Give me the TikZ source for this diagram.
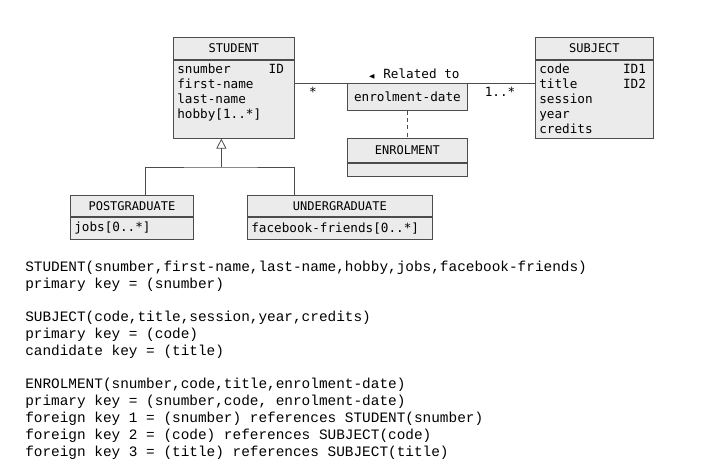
\documentclass[tikz,border=0pt]{standalone}
\usepackage{amssymb}
\usepackage{fontspec}
\newfontfamily\umlfont{DejaVu Sans Mono}
\newfontfamily\relfont{Liberation Mono}
\usetikzlibrary{arrows.meta,positioning}

\tikzset{
  box/.style={draw=black!70,fill=black!8,line width=0.6pt,inner sep=0pt,anchor=north west},
  attr/.style={font=\umlfont\fontsize{9.5}{11.25}\selectfont,align=left,anchor=north west,inner sep=0pt},
  title/.style={font=\umlfont\fontsize{9}{11}\selectfont},
  rel/.style={font=\relfont\fontsize{10.8}{12.75}\selectfont,anchor=west,inner sep=0pt},
  conn/.style={draw=black!70,line width=0.6pt}
}

\begin{document}
\begin{tikzpicture}[x=1pt,y=-1pt]
\useasboundingbox (0,0) rectangle (533.25,354.75);

% classes: header and body
\node[box,minimum width=90.75pt,minimum height=16.5pt] (stu) at (129.75,27.75) {};
\node[box,minimum width=90.75pt,minimum height=58.5pt] (stub) at (stu.south west) {};
\node[title] at (stu) {STUDENT};
\node[attr,text width=80pt] (stut) at ([xshift=3pt,yshift=-2.5pt]stub.north west)
  {snumber\hfill ID\\first-name\\last-name\\hobby[1..*]};

\node[box,minimum width=88.5pt,minimum height=16.5pt] (sub) at (401.25,27.75) {};
\node[box,minimum width=88.5pt,minimum height=58.5pt] (subb) at (sub.south west) {};
\node[title] at (sub) {SUBJECT};
\node[attr,text width=80pt] (subt) at ([xshift=3pt,yshift=-2.5pt]subb.north west)
  {code\hfill ID1\\title\hfill ID2\\session\\year\\credits};

\node[box,minimum width=90pt,minimum height=20.25pt] (ac) at (260.25,62.25) {};
\node[attr,anchor=center] at (ac) {enrolment-date};

\node[box,minimum width=90pt,minimum height=18pt] (enr) at (260.25,103.5) {};
\node[box,minimum width=90pt,minimum height=9.75pt] (enrb) at (enr.south west) {};
\node[title] at (enr) {ENROLMENT};

\node[box,minimum width=92.25pt,minimum height=15.75pt] (pg) at (52.5,146.25) {};
\node[box,minimum width=92.25pt,minimum height=16.5pt] (pgb) at (pg.south west) {};
\node[title] at (pg) {POSTGRADUATE};
\node[attr,anchor=west] at ([xshift=3pt]pgb.west) {jobs[0..*]};

\node[box,minimum width=138.75pt,minimum height=15.75pt] (ug) at (185.25,146.25) {};
\node[box,minimum width=138.75pt,minimum height=16.5pt] (ugb) at (ug.south west) {};
\node[title] at (ug) {UNDERGRADUATE};
\node[attr,anchor=west] at ([xshift=3pt]ugb.west) {facebook-friends[0..*]};

% association
\draw[conn] (stub.east |- ac.north) -- (ac.north west);
\draw[conn] (ac.north east) -- (subb.west |- ac.north);
\draw[conn,dash pattern=on 3pt off 2.5pt] (ac.south) -- (enr.north);
\node[attr,anchor=center] at (310.5,55.5) {{\tiny$\blacktriangleleft$} Related to};
\node[attr,anchor=center] at (234.75,69) {*};
\node[attr,anchor=center] at (375,69) {1..*};

% generalisation
\coordinate (gen) at ([xshift=-9.4pt]stub.south);
\coordinate (jn) at (gen |- 0,125.25);
\draw[conn,-{Triangle[open,length=7.5pt,width=7.5pt]}] (jn) -- (gen);
\draw[conn] (pg.north -| 108.75,0) |- (jn) -| (ug.north -| 220.5,0);

% relational schema
\foreach \y/\t in {
  201/{STUDENT(snumber,first-name,last-name,hobby,jobs,facebook-friends)},
  213.75/{primary key = (snumber)},
  238.5/{SUBJECT(code,title,session,year,credits)},
  251.25/{primary key = (code)},
  264/{candidate key = (title)},
  288.75/{ENROLMENT(snumber,code,title,enrolment-date)},
  301.5/{primary key = (snumber,code, enrolment-date)},
  314.25/{foreign key 1 = (snumber) references STUDENT(snumber)},
  327/{foreign key 2 = (code) references SUBJECT(code)},
  339.75/{foreign key 3 = (title) references SUBJECT(title)}}
  \node[rel] at (18.75,\y) {\t};
\end{tikzpicture}
\end{document}
